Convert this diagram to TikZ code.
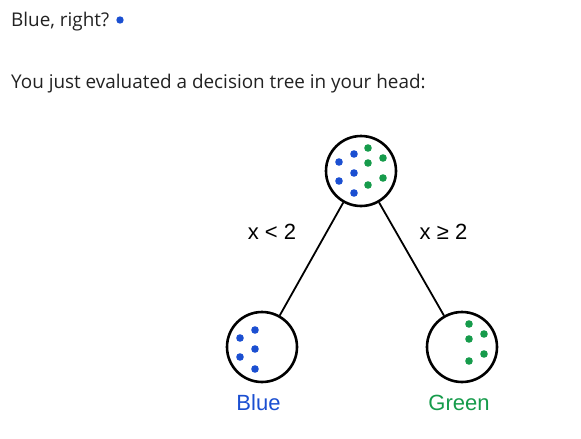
\documentclass[tikz,border=0pt]{standalone}
\usepackage{fontspec}
\setmainfont{Open Sans}
\newfontfamily\arialfont{Liberation Sans}
\usepackage{tikz}
\usetikzlibrary{arrows,positioning}
\definecolor{dotblue}{RGB}{27,79,209}
\definecolor{dotgreen}{RGB}{22,155,75}
\definecolor{textgray}{RGB}{34,34,34}

\begin{document}
\begin{tikzpicture} [x=1pt,y=-1pt,every node/.style={inner sep=0pt},
  leaf/.style={circle,draw,line width=2.6pt,minimum size=70pt},
  lbl/.style={anchor=base,font=\arialfont\fontsize{22}{24}\selectfont}]
\useasboundingbox (0,0) rectangle (581,439);
\node[anchor=base west,text=textgray,font=\fontsize{18.9}{22}\selectfont] (T1) at (11,26) {Blue, right?};
\fill[dotblue] (120,20) circle (3.7pt);
\node[anchor=base west,text=textgray,font=\fontsize{18.9}{22}\selectfont] (T2) at (11,88) {You just evaluated a decision tree in your head:};

\node[leaf] (A) at (361,171) {};
\node[leaf] (B) at (262,347) {};
\node[leaf] (C) at (462,347) {};

\foreach \from/\to in {A/B,A/C}
\draw [line width=1.8pt] (\from) -- (\to);

% dots
\foreach \n in {A,B}
\foreach \dx/\dy in {-22/-9,-7/-17,-7/2,-22/10,-7/22}
\fill[dotblue] (\n) ++(\dx,\dy) circle (3.8pt);
\foreach \n in {A,C}
\foreach \dx/\dy in {7/-23,22/-13,7/-8,22/7,7/14}
\fill[dotgreen] (\n) ++(\dx,\dy) circle (3.8pt);

\node[lbl] (LB) at (272,239.5) {x < 2};
\node[lbl] (RB) at (443.5,239.5) {x ≥ 2};
\node[lbl,text=dotblue] (BL) at (258.5,410) {Blue};
\node[lbl,text=dotgreen] (GL) at (459,410) {Green};
\end{tikzpicture}
\end{document}
